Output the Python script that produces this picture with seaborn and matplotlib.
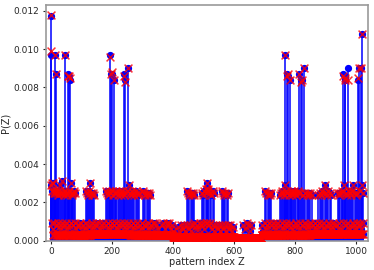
import numpy as np
import pandas as pd
import matplotlib
matplotlib.use("Agg")
import matplotlib.pyplot as plt
import seaborn as sns

N_PATTERNS = 1024

# tall peaks: exact probability (blue) and sampled estimate (red)
peak_z = [0, 2, 13, 16, 48, 55, 60, 63, 193, 197, 201, 206, 239, 243, 253,
          767, 772, 777, 782, 814, 820, 823, 830, 958, 962, 965, 972,
          1006, 1010, 1016, 1020]
peak_p = [0.0117, 0.0097, 0.0097, 0.0087, 0.0097, 0.0087, 0.0086, 0.0084,
          0.0097, 0.0087, 0.0087, 0.0084, 0.0087, 0.0084, 0.0090,
          0.0097, 0.0087, 0.0086, 0.0084, 0.0087, 0.0084, 0.0084, 0.0090,
          0.0087, 0.0086, 0.0084, 0.0090, 0.0084, 0.0090, 0.0090, 0.0108]
peak_q = [0.0118, 0.0099, 0.0097, 0.0087, 0.0097, 0.0086, 0.0086, 0.0085,
          0.0096, 0.0087, 0.0088, 0.0084, 0.0086, 0.0083, 0.0090,
          0.0097, 0.0086, 0.0087, 0.0084, 0.0087, 0.0083, 0.0084, 0.0090,
          0.0086, 0.0085, 0.0084, 0.0084, 0.0085, 0.0090, 0.0090, 0.0108]

# middle level (~0.0025)
mid_z = [1, 3, 5, 7, 9, 11, 14, 18, 20, 22, 25, 28, 31, 34, 37, 39, 42, 45,
         50, 52, 57, 59, 65, 68, 71, 74, 77, 80,
         115, 118, 121, 124, 128, 131, 134, 138, 141,
         182, 185, 188, 191, 195, 199, 204, 209, 212, 215, 219, 222, 226,
         229, 233, 236, 241, 246, 249, 256, 259, 263, 266, 270, 274, 278,
         282, 286, 290,
         302, 306, 310, 314, 318, 322, 326,
         446, 450, 454, 458, 462, 466, 470,
         495, 499, 503, 508, 510, 512, 514, 516, 522, 526, 530, 534,
         560, 564, 568, 572, 576, 580,
         703, 706, 710, 714, 718, 722,
         752, 755, 758, 761, 764, 768, 771, 775, 779, 785, 787, 790, 793,
         797, 800, 804, 808, 811, 816, 826, 834, 838, 842, 846, 850, 855,
         876, 880, 884, 888, 892, 897, 901, 905, 909, 914, 918,
         940, 944, 948, 952, 955, 959, 968, 970, 975, 979, 983, 987, 991,
         995, 999, 1003, 1013, 1018, 1022]
mid_p = [0.0029, 0.0030, 0.0026, 0.0030, 0.0025, 0.0026, 0.0025, 0.0026, 0.0025, 0.0024, 0.0026, 0.0025, 0.0029, 0.0025, 0.0031, 0.0025, 0.0024, 0.0026,
         0.0025, 0.0024, 0.0025, 0.0026, 0.0030, 0.0025, 0.0024, 0.0025, 0.0026, 0.0025,
         0.0026, 0.0025, 0.0024, 0.0026, 0.0030, 0.0025, 0.0024, 0.0025, 0.0024,
         0.0026, 0.0025, 0.0024, 0.0026, 0.0025, 0.0026, 0.0024, 0.0025, 0.0026, 0.0025, 0.0024, 0.0026, 0.0025,
         0.0024, 0.0026, 0.0025, 0.0024, 0.0025, 0.0026, 0.0029, 0.0025, 0.0024, 0.0026, 0.0025, 0.0024, 0.0026,
         0.0025, 0.0024, 0.0025,
         0.0026, 0.0025, 0.0024, 0.0025, 0.0024, 0.0025, 0.0024,
         0.0026, 0.0025, 0.0024, 0.0025, 0.0024, 0.0025, 0.0024,
         0.0025, 0.0024, 0.0026, 0.0027, 0.0025, 0.0030, 0.0026, 0.0027, 0.0025, 0.0024, 0.0026, 0.0025,
         0.0026, 0.0025, 0.0024, 0.0025, 0.0024, 0.0025,
         0.0026, 0.0025, 0.0024, 0.0025, 0.0024, 0.0025,
         0.0024, 0.0025, 0.0026, 0.0025, 0.0024, 0.0029, 0.0026, 0.0025, 0.0024, 0.0026, 0.0025, 0.0024, 0.0025,
         0.0026, 0.0025, 0.0024, 0.0025, 0.0026, 0.0025, 0.0024, 0.0025, 0.0024, 0.0025, 0.0024, 0.0025, 0.0024,
         0.0024, 0.0025, 0.0024, 0.0026, 0.0025, 0.0029, 0.0025, 0.0024, 0.0026, 0.0025, 0.0024,
         0.0025, 0.0024, 0.0025, 0.0026, 0.0025, 0.0029, 0.0025, 0.0024, 0.0026, 0.0025, 0.0024, 0.0026, 0.0029,
         0.0025, 0.0024, 0.0025, 0.0026, 0.0029, 0.0025]

# low band (~0.0008)
band_z = [4, 8, 12, 15, 21, 24, 29, 33, 36, 43,
          47, 51, 54, 61, 66, 70, 73, 79, 84, 89,
          93, 97, 102, 107, 111, 116, 120, 125, 130, 135,
          139, 144, 148, 153, 157, 162, 167, 171, 176, 180,
          186, 190, 194, 200, 203, 208, 213, 217, 223, 227,
          231, 235, 240, 245, 250, 254, 258, 264, 268, 272,
          277, 281, 287, 292, 296, 300, 304, 309, 315, 319,
          323, 327, 333, 337, 341, 346, 351, 364, 369, 374,
          379, 383, 387, 392, 397, 401, 417, 421, 427, 432,
          436, 441, 445, 451, 455, 460, 465, 469, 474, 479,
          484, 488, 493, 498, 502, 507, 511, 517, 521, 527,
          531, 536, 540, 546, 550, 555, 561, 565, 569, 574,
          579, 583, 588, 593, 597, 631, 636, 641, 646, 651,
          655, 691, 696, 700, 705, 709, 715, 719, 724, 728,
          733, 737, 742, 747, 751, 756, 760, 766, 770, 774,
          780, 784, 789, 794, 798, 803, 807, 812, 817, 821,
          827, 831, 836, 840, 845, 849, 854, 859, 864, 868,
          873, 877, 882, 887, 891, 896, 900, 906, 910, 915,
          919, 924, 929, 933, 938, 943, 947, 952, 956, 961,
          966, 971, 976, 980, 985, 989, 994, 998, 1004, 1008,
          1012, 1017, 1021]
band_p = [0.0009, 0.0006, 0.0009, 0.0005, 0.0008, 0.0009, 0.0006, 0.0008, 0.0009, 0.0005,
          0.0008, 0.0009, 0.0006, 0.0008, 0.0009, 0.0005, 0.0008, 0.0009, 0.0006, 0.0008,
          0.0008, 0.0009, 0.0005, 0.0008, 0.0006, 0.0009, 0.0008, 0.0005, 0.0008, 0.0009,
          0.0006, 0.0008, 0.0009, 0.0005, 0.0009, 0.0006, 0.0008, 0.0009, 0.0005, 0.0008,
          0.0009, 0.0006, 0.0008, 0.0009, 0.0005, 0.0008, 0.0009, 0.0006, 0.0008, 0.0009,
          0.0005, 0.0008, 0.0009, 0.0006, 0.0008, 0.0009, 0.0005, 0.0008, 0.0009, 0.0006,
          0.0008, 0.0009, 0.0005, 0.0008, 0.0006, 0.0009, 0.0008, 0.0005, 0.0008, 0.0009,
          0.0006, 0.0008, 0.0009, 0.0005, 0.0009, 0.0008, 0.0006, 0.0008, 0.0009, 0.0006,
          0.0009, 0.0008, 0.0009, 0.0006, 0.0008, 0.0005, 0.0007, 0.0005, 0.0008, 0.0006,
          0.0008, 0.0005, 0.0008, 0.0006, 0.0008, 0.0005, 0.0008, 0.0009, 0.0006, 0.0008,
          0.0006, 0.0009, 0.0008, 0.0009, 0.0006, 0.0009, 0.0009, 0.0008, 0.0009, 0.0006,
          0.0008, 0.0005, 0.0008, 0.0006, 0.0008, 0.0005, 0.0008, 0.0006, 0.0008, 0.0005,
          0.0008, 0.0006, 0.0008, 0.0005, 0.0007, 0.0008, 0.0006, 0.0009, 0.0008, 0.0005,
          0.0008, 0.0008, 0.0005, 0.0009, 0.0006, 0.0008, 0.0009, 0.0005, 0.0008, 0.0009,
          0.0006, 0.0008, 0.0009, 0.0005, 0.0008, 0.0009, 0.0006, 0.0008, 0.0009, 0.0005,
          0.0008, 0.0009, 0.0006, 0.0008, 0.0005, 0.0009, 0.0008, 0.0006, 0.0009, 0.0008,
          0.0005, 0.0009, 0.0008, 0.0006, 0.0008, 0.0009, 0.0005, 0.0008, 0.0009, 0.0006,
          0.0008, 0.0009, 0.0005, 0.0008, 0.0009, 0.0006, 0.0008, 0.0005, 0.0009, 0.0008,
          0.0006, 0.0009, 0.0008, 0.0005, 0.0008, 0.0009, 0.0006, 0.0008, 0.0009, 0.0005,
          0.0008, 0.0009, 0.0006, 0.0008, 0.0005, 0.0009, 0.0008, 0.0006, 0.0009, 0.0008,
          0.0009, 0.0006, 0.0009]

# floor level for all remaining patterns, by index range
base_start = [0, 130, 260, 400, 600, 690, 850]
base_end = [130, 260, 400, 600, 690, 850, 1024]
base_p = [0.00030, 0.00034, 0.00030, 0.00020, 0.00016, 0.00030, 0.00034]

# ---- assemble the distribution ----
exact = np.zeros(N_PATTERNS)
for s, e, p in zip(base_start, base_end, base_p):
    exact[s:e] = p
exact[band_z] = band_p
exact[mid_z] = mid_p
exact[peak_z] = peak_p
sampled = exact.copy()
sampled[peak_z] = peak_q

df = pd.DataFrame({"Z": np.arange(N_PATTERNS), "exact": exact, "sampled": sampled})

sns.set_style("ticks")
plt.rcParams["font.family"] = ["DejaVu Sans"]

fig = plt.figure(figsize=(3.74, 2.70), dpi=100)
ax = fig.add_axes([0.122, 0.1085, 0.863, 0.874])

ml, sl, bl = ax.stem(df["Z"], df["exact"], linefmt="b-", markerfmt="bo", basefmt=" ")
plt.setp(sl, linewidth=1.1, color="#0000ff")
plt.setp(ml, markersize=4.2, color="#0000ff")

sns.scatterplot(data=df, x="Z", y="sampled", marker="x", color="red",
                s=32, linewidth=1.1, alpha=0.8, ax=ax, zorder=4, legend=False)

ax.set_xlim(-17, 1040)
ax.set_ylim(0, 0.01231)
ax.set_xticks([0, 200, 400, 600, 800, 1000])
ax.set_yticks([0, 0.002, 0.004, 0.006, 0.008, 0.010, 0.012])
ax.set_yticklabels(["0.000", "0.002", "0.004", "0.006", "0.008", "0.010", "0.012"])
ax.tick_params(labelsize=6.5, length=2.5, width=0.8, pad=2)
ax.set_xlabel("pattern index Z", fontsize=7, labelpad=1)
ax.set_ylabel("P(Z)", fontsize=7, labelpad=2)
for sp in ax.spines.values():
    sp.set_visible(True)
    sp.set_color("#999999")
    sp.set_linewidth(1.2)

fig.savefig("out.png", dpi=100)
